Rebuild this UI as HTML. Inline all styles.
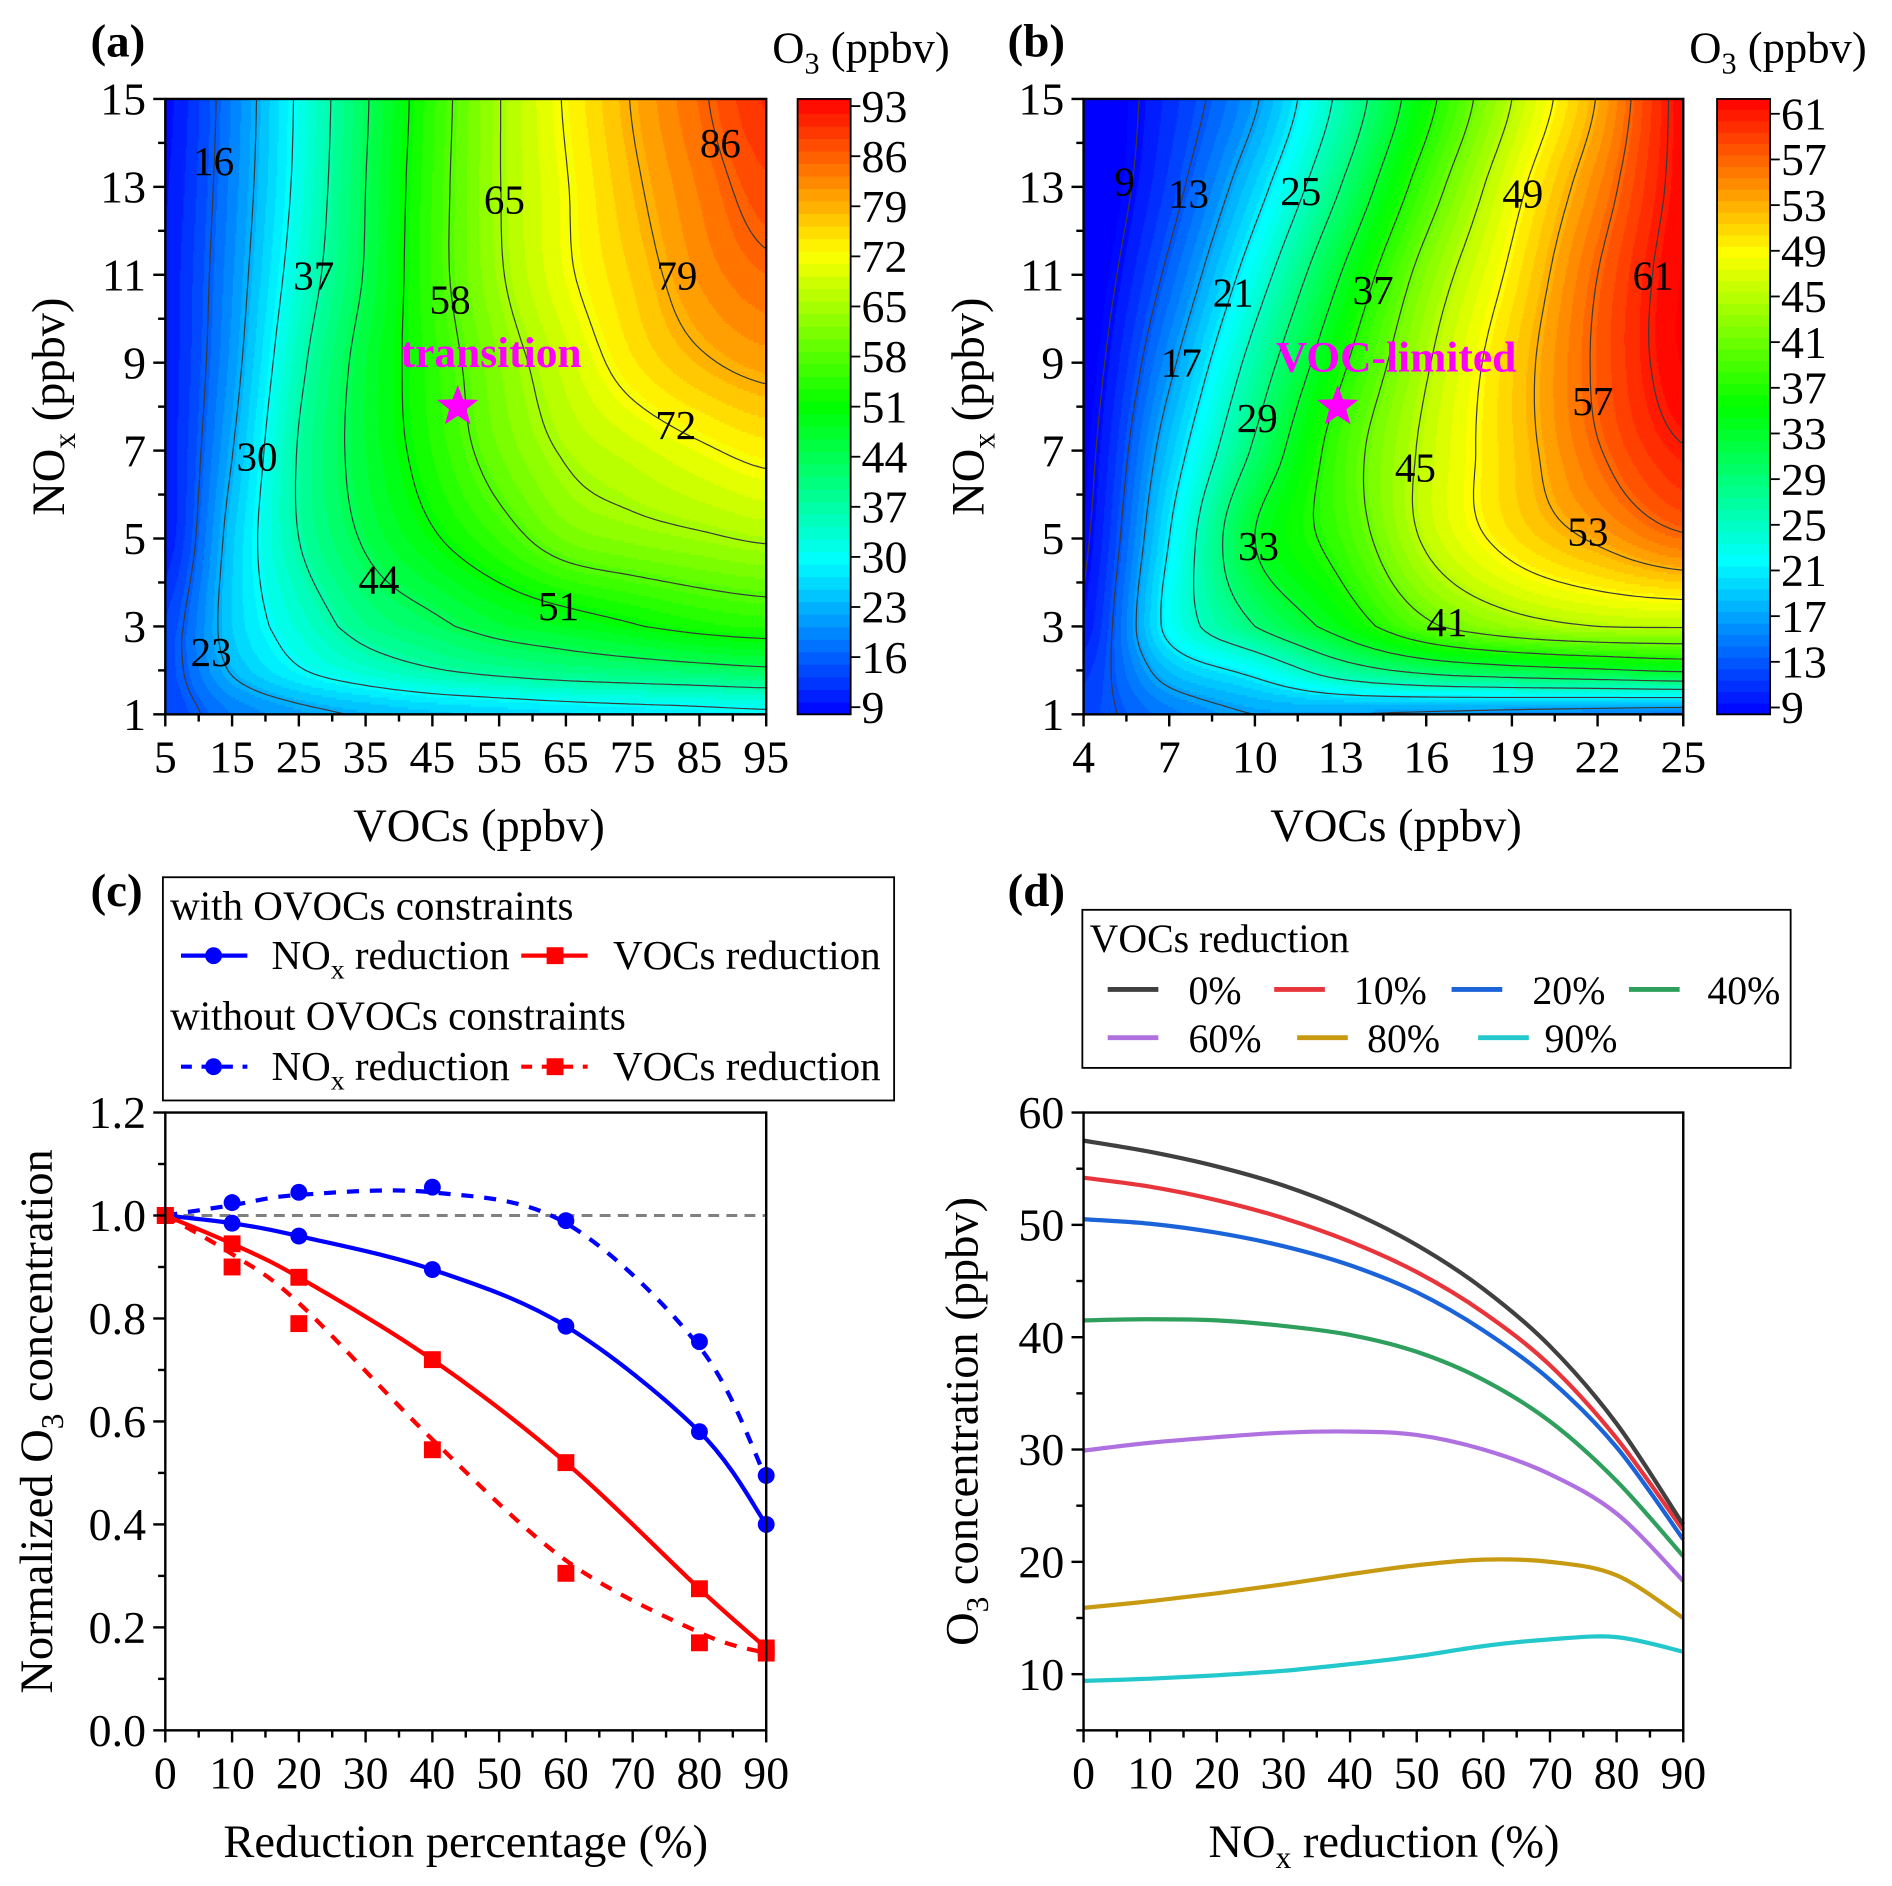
<!DOCTYPE html>
<html><head><meta charset="utf-8">
<style>
html,body{margin:0;padding:0;background:#fff}
svg{display:block}
text{font-family:"Liberation Serif",serif;fill:#000}
</style></head>
<body>
<svg id="fig" width="1892" height="1886" viewBox="0 0 1568 1563" preserveAspectRatio="none" xmlns="http://www.w3.org/2000/svg">
<rect x="0" y="0" width="1568" height="1563" fill="#fff"/>
<g id="pa"></g>
<g id="pb"></g>
<g id="pc"></g>
<g id="pd"></g>

<text x="75" y="47" font-size="39" font-weight="bold">(a)</text>
<text x="835" y="47" font-size="39" font-weight="bold">(b)</text>
<text x="75" y="751" font-size="39" font-weight="bold">(c)</text>
<text x="835" y="751" font-size="39" font-weight="bold">(d)</text>

<text x="640" y="52" font-size="37">O<tspan dy="9" font-size="25">3</tspan><tspan dy="-9"> (ppbv)</tspan></text>
<text x="1400" y="52" font-size="37">O<tspan dy="9" font-size="25">3</tspan><tspan dy="-9"> (ppbv)</tspan></text>

<text x="397" y="697" font-size="38.5" text-anchor="middle">VOCs (ppbv)</text>
<text x="1157" y="697" font-size="38.5" text-anchor="middle">VOCs (ppbv)</text>
<text transform="translate(53,337) rotate(-90)" font-size="38.5" text-anchor="middle">NO<tspan dy="9" font-size="26">x</tspan><tspan dy="-9"> (ppbv)</tspan></text>
<text transform="translate(815,337) rotate(-90)" font-size="38.5" text-anchor="middle">NO<tspan dy="9" font-size="26">x</tspan><tspan dy="-9"> (ppbv)</tspan></text>
<text transform="translate(43,1178) rotate(-90)" font-size="38.5" text-anchor="middle">Normalized O<tspan dy="9" font-size="26">3</tspan><tspan dy="-9"> concentration</tspan></text>
<text transform="translate(810,1178) rotate(-90)" font-size="38.5" text-anchor="middle">O<tspan dy="9" font-size="26">3</tspan><tspan dy="-9"> concentration (ppbv)</tspan></text>
<text x="386" y="1539" font-size="38.5" text-anchor="middle">Reduction percentage (%)</text>
<text x="1147" y="1539" font-size="38.5" text-anchor="middle">NO<tspan dy="9" font-size="26">x</tspan><tspan dy="-9"> reduction (%)</tspan></text>

<g>
<rect x="135" y="727" width="606" height="185" fill="#fff" stroke="#000" stroke-width="1.5"/>
<text x="141" y="762" font-size="34">with OVOCs constraints</text>
<line x1="150" y1="792" x2="205" y2="792" stroke="#0000ff" stroke-width="3.5"/>
<circle cx="177" cy="792" r="7" fill="#0000ff"/>
<text x="225" y="803" font-size="34">NO<tspan dy="8" font-size="23">x</tspan><tspan dy="-8"> reduction</tspan></text>
<line x1="432" y1="792" x2="487" y2="792" stroke="#ff0000" stroke-width="3.5"/>
<rect x="453" y="785" width="14" height="14" fill="#ff0000"/>
<text x="508" y="803" font-size="34">VOCs reduction</text>
<text x="141" y="853" font-size="34">without OVOCs constraints</text>
<line x1="150" y1="884" x2="205" y2="884" stroke="#0000ff" stroke-width="3.5" stroke-dasharray="9,8"/>
<circle cx="177" cy="884" r="7" fill="#0000ff"/>
<text x="225" y="895" font-size="34">NO<tspan dy="8" font-size="23">x</tspan><tspan dy="-8"> reduction</tspan></text>
<line x1="432" y1="884" x2="487" y2="884" stroke="#ff0000" stroke-width="3.5" stroke-dasharray="9,8"/>
<rect x="453" y="877" width="14" height="14" fill="#ff0000"/>
<text x="508" y="895" font-size="34">VOCs reduction</text>
</g>

<g id="legd">
<rect x="897" y="754" width="587" height="131" fill="#fff" stroke="#000" stroke-width="1.5"/>
<text x="903" y="789" font-size="33">VOCs reduction</text>
</g>

<text x="407" y="304" font-size="36" font-weight="bold" fill="#ff00ff" style="fill:#ff00ff" text-anchor="middle">transition</text>
<text x="1157" y="308" font-size="36" font-weight="bold" fill="#ff00ff" style="fill:#ff00ff" text-anchor="middle">VOC-limited</text>
</svg>

<script>
// ---------- data ----------
const aVOC = [5, 15, 25, 35, 45, 55, 65, 75, 85, 95];
const aNOX = [1, 2, 3, 5, 7, 9, 11, 13, 15];
const aO3 = [
  [13.5, 18.5, 21.5, 23.5, 25, 26, 27, 27.7, 28.3, 29],
  [14, 23.5, 29.5, 33.5, 36.5, 38.5, 40, 41, 42, 43],
  [13.5, 25.5, 33, 39.4, 42.8, 46.2, 48.4, 50.6, 52.8, 54],
  [10, 25, 37, 44.7, 50.3, 55.5, 60.8, 62.8, 64.2, 65.6],
  [10, 22.8, 37.4, 46.5, 53.6, 60.5, 65.6, 68.4, 71.2, 73.5],
  [10, 21, 35.5, 46.4, 54.5, 62.2, 68.4, 74.2, 78.2, 80.5],
  [10, 20, 33, 44.5, 55.5, 64.4, 71.2, 76.5, 81.8, 85],
  [9.5, 19.2, 31.5, 44, 55.3, 64.8, 71.7, 78.1, 83.5, 88],
  [9, 18.7, 31, 43.4, 54.8, 64.8, 72.5, 79.3, 85.2, 90.5]
];
const aLevels = [16, 23, 30, 37, 44, 51, 58, 65, 72, 79, 86];
const aCbTicks = [9, 16, 23, 30, 37, 44, 51, 58, 65, 72, 79, 86, 93];
const aStar = [48.8, 8];

const bVOC = [4, 7, 10, 13, 16, 19, 22, 25];
const bNOX = [1, 2, 3, 5, 7, 9, 11, 13, 15];
const bO3 = [
  [12, 15, 17, 17, 16.5, 16, 15.5, 15],
  [11, 18.5, 22, 27, 30, 31.5, 32.5, 33.5],
  [9.5, 22, 29, 34.5, 40.3, 43.5, 45, 45.3],
  [8.5, 21, 33, 38.4, 45.5, 50.2, 53.5, 56.5],
  [8, 18.8, 29.6, 38.8, 45.75, 51.25, 56.75, 60.8],
  [7.5, 16.2, 26.5, 36.2, 44.6, 51.2, 57.5, 62.5],
  [7, 13.7, 23, 33, 42.5, 49.7, 57, 62.5],
  [6.5, 11.75, 19.5, 29, 39, 47.7, 55.2, 62],
  [6.5, 10.8, 16.6, 25.9, 35.8, 45, 53.2, 62]
];
const bLevels = [9, 13, 17, 21, 25, 29, 33, 37, 41, 45, 49, 53, 57, 61];
const bCbTicks = [9, 13, 17, 21, 25, 29, 33, 37, 41, 45, 49, 53, 57, 61];
const bStar = [12.9, 8];

const cPct = [0, 10, 20, 40, 60, 80, 90];
const cNoxWith = [1.0, 0.985, 0.96, 0.895, 0.785, 0.58, 0.40];
const cVocWith = [1.0, 0.945, 0.88, 0.72, 0.52, 0.275, 0.16];
const cNoxWithout = [1.0, 1.025, 1.045, 1.055, 0.99, 0.755, 0.495];
const cVocWithout = [1.0, 0.90, 0.79, 0.545, 0.305, 0.17, 0.15];
const cNoxWithoutFit = [1.0, 1.02, 1.04, 1.045, 0.985, 0.745, 0.49];
const cVocWithoutFit = [1.0, 0.925, 0.83, 0.565, 0.33, 0.19, 0.15];

const dPct = [0, 10, 20, 30, 40, 50, 60, 70, 80, 90];
const dLabels = ['0%', '10%', '20%', '40%', '60%', '80%', '90%'];
const dColors = ['#404040', '#e8353b', '#1a63d8', '#2e9f5c', '#b071e0', '#c89a12', '#22c8cc'];
const d0 = [57.5, 56.5, 55.2, 53.5, 51.2, 48.2, 44.3, 39.2, 32.3, 23.3];
const d10 = [54.2, 53.4, 52.2, 50.6, 48.5, 45.8, 42.2, 37.5, 31.0, 22.8];
const d20 = [50.5, 50.1, 49.3, 48.1, 46.4, 44.0, 40.6, 36.2, 30.2, 22.0];
const d40 = [41.5, 41.6, 41.5, 41.0, 40.2, 38.7, 36.2, 32.5, 27.2, 20.5];
const d60 = [29.9, 30.6, 31.1, 31.5, 31.6, 31.3, 30.0, 27.8, 24.3, 18.3];
const d80 = [15.9, 16.5, 17.2, 18.0, 18.9, 19.7, 20.2, 20.0, 18.8, 15.0];
const d90 = [9.4, 9.6, 9.9, 10.3, 10.9, 11.6, 12.5, 13.1, 13.3, 12.0];

const TICK_FS = 38;

// ---------- helpers ----------
const NS = 'http://www.w3.org/2000/svg';
function mk(tag, parent, at) {
  const e = document.createElementNS(NS, tag);
  for (const k in at) e.setAttribute(k, at[k]);
  parent.appendChild(e);
  return e;
}
function cr(p0, p1, p2, p3, t) {
  return 0.5 * ((2 * p1) + (-p0 + p2) * t + (2 * p0 - 5 * p1 + 4 * p2 - p3) * t * t + (-p0 + 3 * p1 - 3 * p2 + p3) * t * t * t);
}
function locate(arr, v) {
  let i = 0;
  while (i < arr.length - 2 && v > arr[i + 1]) i++;
  let t = (v - arr[i]) / (arr[i + 1] - arr[i]);
  return [i, Math.max(0, Math.min(1, t))];
}
function field(grid, xs, ys, x, y) {
  const [i, tx] = locate(xs, x);
  const [j, ty] = locate(ys, y);
  const row = k => {
    const r = grid[Math.max(0, Math.min(ys.length - 1, k))];
    const g = c => r[Math.max(0, Math.min(xs.length - 1, c))];
    return cr(g(i - 1), g(i), g(i + 1), g(i + 2), tx);
  };
  return cr(row(j - 1), row(j), row(j + 1), row(j + 2), ty);
}
function rainbow(t) {
  t = Math.max(0, Math.min(1, t));
  let r, g, b;
  if (t < 0.25) { r = 0; g = t / 0.25; b = 1; }
  else if (t < 0.5) { r = 0; g = 1; b = 1 - (t - 0.25) / 0.25; }
  else if (t < 0.75) { r = (t - 0.5) / 0.25; g = 1; b = 0; }
  else { r = 1; g = 1 - (t - 0.75) / 0.25; b = 0; }
  return 'rgb(' + Math.round(r * 255) + ',' + Math.round(g * 255) + ',' + Math.round(b * 255) + ')';
}
function smoothPath(pts) {
  let d = 'M' + pts[0][0].toFixed(2) + ',' + pts[0][1].toFixed(2);
  for (let i = 0; i < pts.length - 1; i++) {
    const p0 = pts[i - 1] || pts[i], p1 = pts[i], p2 = pts[i + 1], p3 = pts[i + 2] || pts[i + 1];
    const c1 = [p1[0] + (p2[0] - p0[0]) / 6, p1[1] + (p2[1] - p0[1]) / 6];
    const c2 = [p2[0] - (p3[0] - p1[0]) / 6, p2[1] - (p3[1] - p1[1]) / 6];
    d += 'C' + c1[0].toFixed(2) + ',' + c1[1].toFixed(2) + ' ' + c2[0].toFixed(2) + ',' + c2[1].toFixed(2) + ' ' + p2[0].toFixed(2) + ',' + p2[1].toFixed(2);
  }
  return d;
}

// ---------- contour panel ----------
function contourPanel(gid, P) {
  const G = document.getElementById(gid);
  const L = P.left, R = P.right, T = 82, B = 592;
  const xOf = v => L + (v - P.xmin) / (P.xmax - P.xmin) * (R - L);
  const yOf = n => B - (n - 1) / 14 * (B - T);
  const vOf = x => P.xmin + (x - L) / (R - L) * (P.xmax - P.xmin);
  const nOf = y => 1 + (B - y) / (B - T) * 14;
  const col = v => rainbow((v - P.cmin) / (P.cmax - P.cmin));
  const band = v => Math.floor((v - P.cmin) / P.step);
  const bandCol = k => col(P.cmin + (k + 0.5) * P.step);

  const hm = mk('g', G, {});
  
  
  const dy = 2;
  for (let y = T; y < B; y += dy) {
    const n = nOf(y + dy / 2);
    let start = L, cur = band(field(P.grid, P.xs, P.ys, vOf(L + 0.5), n));
    for (let x = L + 1; x <= R; x++) {
      const k = x < R ? band(field(P.grid, P.xs, P.ys, vOf(x + 0.5), n)) : null;
      if (k !== cur) {
        const r = mk('rect', hm, { x: start, y: y, width: x - start + 0.6, height: dy + 0.6, fill: bandCol(cur) });
        
        
        start = x; cur = k;
      }
    }
  }
  const NX = 140, NY = 140;
  const vals = [];
  for (let j = 0; j <= NY; j++) {
    const row = [];
    for (let i = 0; i <= NX; i++) {
      row.push(field(P.grid, P.xs, P.ys, P.xmin + i / NX * (P.xmax - P.xmin), 1 + j / NY * 14));
    }
    vals.push(row);
  }
  const px = i => L + i / NX * (R - L);
  const py = j => B - j / NY * (B - T);
  P.levels.forEach(lv => {
    let d = '';
    for (let j = 0; j < NY; j++) for (let i = 0; i < NX; i++) {
      const c = [[i, j, vals[j][i]], [i + 1, j, vals[j][i + 1]], [i + 1, j + 1, vals[j + 1][i + 1]], [i, j + 1, vals[j + 1][i]]];
      const pts = [];
      for (let e = 0; e < 4; e++) {
        const a = c[e], b = c[(e + 1) % 4];
        if ((a[2] < lv) !== (b[2] < lv)) {
          const t = (lv - a[2]) / (b[2] - a[2]);
          pts.push([px(a[0] + (b[0] - a[0]) * t), py(a[1] + (b[1] - a[1]) * t)]);
        }
      }
      for (let k = 0; k + 1 < pts.length; k += 2) {
        d += 'M' + pts[k][0].toFixed(1) + ',' + pts[k][1].toFixed(1) + 'L' + pts[k + 1][0].toFixed(1) + ',' + pts[k + 1][1].toFixed(1);
      }
    }
    if (d) {
      const p = mk('path', G, { d: d, fill: 'none', stroke: '#3a3a3a', 'stroke-width': 1, 'stroke-linecap': 'round' });
      
      
    }
  });
  P.labels.forEach(lb => {
    const t = mk('text', G, { x: lb[1], y: lb[2] + 12, 'font-size': 34, 'text-anchor': 'middle' });
    t.textContent = lb[0];
    
    
  });
  const sx = xOf(P.star[0]), sy = yOf(P.star[1]);
  let sp = '';
  for (let k = 0; k < 10; k++) {
    const rr = k % 2 ? 7.5 : 18, a = -Math.PI / 2 + k * Math.PI / 5;
    sp += (sx + rr * Math.cos(a)).toFixed(1) + ',' + (sy + rr * Math.sin(a)).toFixed(1) + ' ';
  }
  const st = mk('polygon', G, { points: sp, fill: '#ff00ff' });
  
  
  const fr = mk('rect', G, { x: L, y: T, width: R - L, height: B - T, fill: 'none', stroke: '#000', 'stroke-width': 2 });
  
  
  for (let v = P.xmin; v <= P.xmax + 1e-6; v += P.xminor) {
    const major = Math.abs(((v - P.xmin) / P.xmajor) - Math.round((v - P.xmin) / P.xmajor)) < 1e-6;
    const x = xOf(v);
    const tk = mk('line', G, { x1: x, y1: B, x2: x, y2: B + (major ? 10 : 6), stroke: '#000', 'stroke-width': 2 });
    
    
    if (major) {
      const t = mk('text', G, { x: x, y: B + 48, 'font-size': TICK_FS, 'text-anchor': 'middle' });
      t.textContent = Math.round(v);
      
      
    }
  }
  for (let n = 1; n <= 15; n++) {
    const y = yOf(n), major = n % 2 === 1;
    const tk = mk('line', G, { x1: L, y1: y, x2: L - (major ? 10 : 6), y2: y, stroke: '#000', 'stroke-width': 2 });
    
    
    if (major) {
      const t = mk('text', G, { x: L - 16, y: y + 13, 'font-size': TICK_FS, 'text-anchor': 'end' });
      t.textContent = n;
      
      
    }
  }
  const CL = P.cbLeft, CR = P.cbLeft + 44;
  const cy = v => B - (v - P.cmin) / (P.cmax - P.cmin) * (B - T);
  const cb = mk('g', G, {});
  
  
  const nb = Math.ceil((P.cmax - P.cmin) / P.step);
  for (let k = 0; k < nb; k++) {
    const y1 = cy(Math.min(P.cmax, P.cmin + (k + 1) * P.step)), y2 = cy(P.cmin + k * P.step);
    const r = mk('rect', cb, { x: CL, y: y1, width: CR - CL, height: y2 - y1 + 0.5, fill: bandCol(k) });
    
    
  }
  const cf = mk('rect', cb, { x: CL, y: T, width: CR - CL, height: B - T, fill: 'none', stroke: '#000', 'stroke-width': 1.5 });
  
  
  P.cbTicks.forEach(v => {
    const y = cy(v);
    const tk = mk('line', cb, { x1: CR, y1: y, x2: CR + 8, y2: y, stroke: '#000', 'stroke-width': 1.5 });
    
    
    const t = mk('text', cb, { x: CR + 9, y: y + 13, 'font-size': TICK_FS });
    t.textContent = v;
    
    
  });
}

contourPanel('pa', {
  left: 137, right: 635, xmin: 5, xmax: 95, xmajor: 10, xminor: 5,
  grid: aO3, xs: aVOC, ys: aNOX, levels: aLevels, cbTicks: aCbTicks, star: aStar,
  cmin: 8, cmax: 94, step: 1.75, cbLeft: 661,
  labels: [['16', 177, 133], ['37', 260, 228], ['65', 418, 165], ['86', 597, 118], ['58', 373, 248], ['79', 561, 228], ['30', 213, 378], ['72', 560, 352], ['44', 314, 480], ['51', 463, 502], ['23', 175, 540]]
});
contourPanel('pb', {
  left: 898, right: 1395, xmin: 4, xmax: 25, xmajor: 3, xminor: 1.5,
  grid: bO3, xs: bVOC, ys: bNOX, levels: bLevels, cbTicks: bCbTicks, star: bStar,
  cmin: 8.4, cmax: 62.3, step: 1, cbLeft: 1423,
  labels: [['9', 932, 150], ['13', 985, 160], ['25', 1078, 158], ['49', 1262, 160], ['37', 1138, 240], ['21', 1022, 242], ['61', 1370, 228], ['17', 979, 300], ['57', 1320, 332], ['29', 1042, 346], ['45', 1173, 387], ['53', 1316, 440], ['33', 1043, 452], ['41', 1199, 515]]
});

// ---------- panel c ----------
(function () {
  const G = document.getElementById('pc');
  const L = 137, R = 635, T = 922, B = 1434;
  const xC = p => L + p / 90 * (R - L);
  const yC = v => B - v / 1.2 * (B - T);
  const ref = mk('line', G, { x1: L, y1: yC(1), x2: R, y2: yC(1), stroke: '#808080', 'stroke-width': 2.5, 'stroke-dasharray': '9,6' });
  
  
  const series = [
    ['nox-without', cNoxWithoutFit, cNoxWithout, '#0000ff', true, 'circle'],
    ['voc-without', cVocWithoutFit, cVocWithout, '#ff0000', true, 'square'],
    ['nox-with', cNoxWith, cNoxWith, '#0000ff', false, 'circle'],
    ['voc-with', cVocWith, cVocWith, '#ff0000', false, 'square']
  ];
  series.forEach(s => {
    const pts = cPct.map((p, i) => [xC(p), yC(s[1][i])]);
    const at = { d: smoothPath(pts), fill: 'none', stroke: s[3], 'stroke-width': 3.5 };
    if (s[4]) at['stroke-dasharray'] = '10,9';
    const path = mk('path', G, at);
    
    
    cPct.forEach((p, i) => {
      const x = xC(p), y = yC(s[2][i]);
      let m;
      if (s[5] === 'circle') m = mk('circle', G, { cx: x, cy: y, r: 7, fill: s[3] });
      else m = mk('rect', G, { x: x - 7, y: y - 7, width: 14, height: 14, fill: s[3] });
      
      
    });
  });
  const fr = mk('rect', G, { x: L, y: T, width: R - L, height: B - T, fill: 'none', stroke: '#000', 'stroke-width': 2 });
  
  
  for (let p = 0; p <= 90; p += 5) {
    const major = p % 10 === 0, x = xC(p);
    const tk = mk('line', G, { x1: x, y1: B, x2: x, y2: B + (major ? 10 : 6), stroke: '#000', 'stroke-width': 2 });
    
    
    if (major) {
      const t = mk('text', G, { x: x, y: B + 48, 'font-size': TICK_FS, 'text-anchor': 'middle' });
      t.textContent = p;
      
      
    }
  }
  for (let k = 0; k <= 12; k++) {
    const v = k / 10, y = yC(v), major = k % 2 === 0;
    const tk = mk('line', G, { x1: L, y1: y, x2: L - (major ? 10 : 6), y2: y, stroke: '#000', 'stroke-width': 2 });
    
    
    if (major) {
      const t = mk('text', G, { x: L - 16, y: y + 13, 'font-size': TICK_FS, 'text-anchor': 'end' });
      t.textContent = v.toFixed(1);
      
      
    }
  }
})();

// ---------- panel d ----------
(function () {
  const G = document.getElementById('pd');
  const L = 898, R = 1395, T = 922, B = 1434;
  const xD = p => L + p / 90 * (R - L);
  const yD = v => B - (v - 5) / 55 * (B - T);
  const series = [d0, d10, d20, d40, d60, d80, d90];
  series.slice().reverse().forEach((s, ri) => {
    const i = series.length - 1 - ri;
    const pts = dPct.map((p, k) => [xD(p), yD(s[k])]);
    const path = mk('path', G, { d: smoothPath(pts), fill: 'none', stroke: dColors[i], 'stroke-width': 3.5 });
    
    
  });
  const fr = mk('rect', G, { x: L, y: T, width: R - L, height: B - T, fill: 'none', stroke: '#000', 'stroke-width': 2 });
  
  
  for (let p = 0; p <= 90; p += 5) {
    const major = p % 10 === 0, x = xD(p);
    const tk = mk('line', G, { x1: x, y1: B, x2: x, y2: B + (major ? 10 : 6), stroke: '#000', 'stroke-width': 2 });
    
    
    if (major) {
      const t = mk('text', G, { x: x, y: B + 48, 'font-size': TICK_FS, 'text-anchor': 'middle' });
      t.textContent = p;
      
      
    }
  }
  for (let v = 5; v <= 60; v += 5) {
    const y = yD(v), major = v % 10 === 0;
    const tk = mk('line', G, { x1: L, y1: y, x2: L - (major ? 10 : 6), y2: y, stroke: '#000', 'stroke-width': 2 });
    
    
    if (major) {
      const t = mk('text', G, { x: L - 16, y: y + 13, 'font-size': TICK_FS, 'text-anchor': 'end' });
      t.textContent = v;
      
      
    }
  }
  const LG = document.getElementById('legd');
  const pos = [[918, 820, 985], [1056, 820, 1122], [1203, 820, 1270], [1350, 820, 1415], [918, 860, 985], [1075, 860, 1133], [1225, 860, 1280]];
  dLabels.forEach((lab, i) => {
    const p = pos[i];
    const ln = mk('line', LG, { x1: p[0], y1: p[1], x2: p[0] + 42, y2: p[1], stroke: dColors[i], 'stroke-width': 4 });
    
    
    const t = mk('text', LG, { x: p[2], y: p[1] + 12, 'font-size': 33 });
    t.textContent = lab;
    
    
  });
})();
</script>
</body></html>
